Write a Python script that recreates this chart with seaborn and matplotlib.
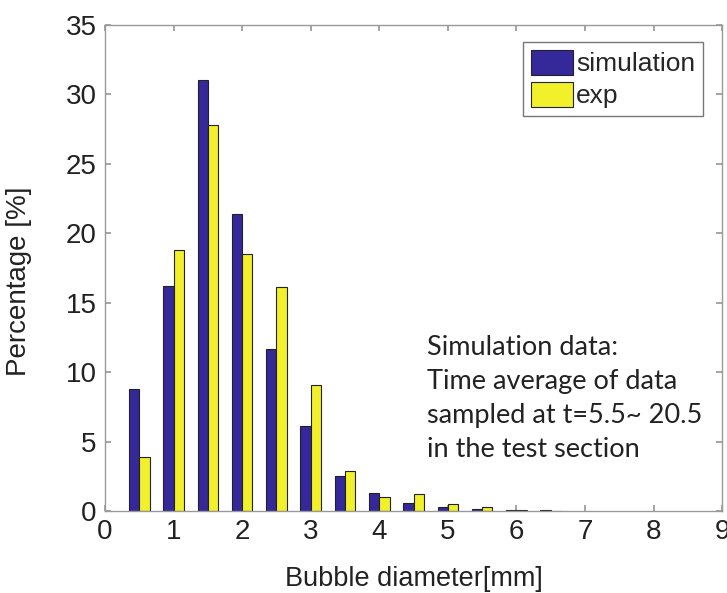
import pandas as pd
import numpy as np
import matplotlib.pyplot as plt
import seaborn as sns

# ==========================================
# DATA
# ==========================================

diameters = [0.5, 1.0, 1.5, 2.0, 2.5, 3.0, 3.5, 4.0, 4.5, 5.0, 5.5, 6.0, 6.5]
simulation = [8.8, 16.2, 31.0, 21.4, 11.7, 6.1, 2.5, 1.3, 0.6, 0.3, 0.15, 0.1, 0.05]
experiment = [3.9, 18.8, 27.8, 18.5, 16.1, 9.1, 2.9, 1.0, 1.2, 0.5, 0.3, 0.1, 0.0]
series_names = ["simulation", "exp"]
x_ticks = list(range(0, 10))
y_ticks = list(range(0, 40, 5))

note = "Simulation data:\nTime average of data\nsampled at t=5.5~ 20.5\nin the test section"

colors = ["#35289a", "#f2f02a"]

# ==========================================
# TABLE FOR SEABORN
# ==========================================

df = pd.DataFrame({
    "diameter": diameters * 2,
    "percentage": simulation + experiment,
    "source": [series_names[0]] * len(diameters) + [series_names[1]] * len(diameters),
})

sns.set_theme(style="ticks")
plt.rcParams["font.family"] = ["Liberation Sans", "DejaVu Sans"]

fig = plt.figure(figsize=(7.27, 5.93), dpi=100)
ax = fig.add_axes([0.1444, 0.138, 0.849, 0.82])

sns.barplot(data=df, x="diameter", y="percentage", hue="source",
            native_scale=True, width=0.6, palette=colors, saturation=1,
            edgecolor="#222222", linewidth=0.8, ax=ax)

ax.set_xlim(0, 9)
ax.set_ylim(0, 35)
ax.set_xticks(x_ticks)
ax.set_yticks(y_ticks)
ax.tick_params(direction="in", top=True, right=True, length=4,
               color="#999999", labelsize=20, labelcolor="#222222", pad=6)
for s in ax.spines.values():
    s.set_color("#999999")
    s.set_linewidth(1.0)

ax.set_xlabel("Bubble diameter[mm]", fontsize=19.5, color="#222222")
ax.set_ylabel("Percentage [%]", fontsize=20, color="#222222")
ax.xaxis.set_label_coords(0.5, -0.112)
ax.yaxis.set_label_coords(-0.118, 0.472)

handles, labels = ax.get_legend_handles_labels()
leg = ax.legend(handles, labels, loc="upper right", fontsize=19,
                frameon=True, fancybox=False, edgecolor="#555555",
                handlelength=1.6, handleheight=1.1, handletextpad=0.1,
                borderpad=0.3, labelspacing=0.2, borderaxespad=0,
                bbox_to_anchor=(0.969, 0.965))
leg.get_frame().set_linewidth(1.0)

ax.text(4.7, 8.1, note, ha="left", va="center", fontsize=19.5,
        family=["Lato", "DejaVu Sans"], color="#222222", linespacing=1.45)

plt.savefig("out.png", dpi=100)
plt.close()
